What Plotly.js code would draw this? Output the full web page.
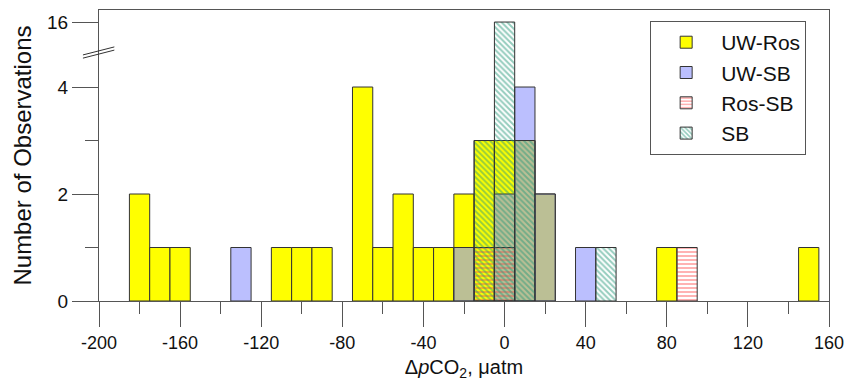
<!DOCTYPE html>
<html>
<head>
<meta charset="utf-8">
<script src="https://cdn.plot.ly/plotly-3.0.1.min.js"></script>
<style>
  html, body { margin: 0; padding: 0; background: #fff; }
  #chart { width: 851px; height: 385px; }
</style>
</head>
<body>
<div id="chart"></div>
<script>
// Histogram bins (centres, bin width 10 µatm) and counts per series
const uwRosX = [-180, -170, -160, -110, -100, -90, -70, -60, -50, -40, -30, -20, -10, 0, 10, 20, 80, 150];
const uwRosN = [2, 1, 1, 1, 1, 1, 4, 1, 2, 1, 1, 2, 3, 3, 3, 2, 1, 1];
const uwSbX = [-130, -20, 0, 10, 20, 40];
const uwSbN = [1, 1, 2, 4, 2, 1];
const rosSbX = [-10, 0, 90];
const rosSbN = [1, 1, 1];
const sbX = [-10, 0, 10, 50];
const sbN = [3, 16, 3, 1];

const seriesNames = ['UW-Ros', 'UW-SB', 'Ros-SB', 'SB'];
const xTickVals = [-200, -160, -120, -80, -40, 0, 40, 80, 120, 160];
const yTickLabels = ['0', '2', '4', '16'];
const yTickCounts = [0, 2, 4, 16];

// Broken y axis: 0..4 linear, then a break; 16 sits just above it
const BREAK_LIMIT = 4;
const BREAK_POS = 5.215;
function toAxis(v) { return v <= BREAK_LIMIT ? v : BREAK_POS; }

const BIN_W = 10;
const outline = { color: '#333333', width: 1 };

const traces = [
  {
    type: 'bar', name: seriesNames[0], x: uwRosX, y: uwRosN.map(toAxis),
    width: BIN_W, marker: { color: '#FFFF00', line: outline }
  },
  {
    type: 'bar', name: seriesNames[1], x: uwSbX, y: uwSbN.map(toAxis),
    width: BIN_W, marker: { color: 'rgba(140,146,254,0.59)', line: outline }
  },
  {
    type: 'bar', name: seriesNames[2], x: rosSbX, y: rosSbN.map(toAxis),
    width: BIN_W,
    marker: {
      color: 'rgba(0,0,0,0)', line: outline,
      pattern: { shape: '-', fgcolor: '#FF4848', bgcolor: 'rgba(0,0,0,0)', size: 4, solidity: 0.42, fillmode: 'overlay' }
    }
  },
  {
    type: 'bar', name: seriesNames[3], x: sbX, y: sbN.map(toAxis),
    width: BIN_W,
    marker: {
      color: 'rgba(0,0,0,0)', line: outline,
      pattern: { shape: '\\', fgcolor: '#2A9A7C', bgcolor: 'rgba(0,0,0,0)', size: 4, solidity: 0.5, fillmode: 'overlay' }
    }
  }
];

const FONT = 'Liberation Sans, Arial, sans-serif';
const axisColor = '#555555';

const layout = {
  width: 851, height: 385,
  margin: { l: 99, r: 22, t: 10, b: 84 },
  paper_bgcolor: '#ffffff', plot_bgcolor: '#ffffff',
  barmode: 'overlay',
  font: { family: FONT, size: 18, color: '#111111' },
  showlegend: true,
  legend: {
    x: 0.755, y: 0.962, xanchor: 'left', yanchor: 'top',
    bgcolor: '#ffffff', bordercolor: '#555555', borderwidth: 1,
    font: { family: FONT, size: 21, color: '#111111' },
    itemwidth: 60, tracegroupgap: 0
  },
  xaxis: {
    range: [-200, 160], showgrid: false, zeroline: false,
    showline: true, linecolor: axisColor, linewidth: 1, mirror: true,
    ticks: 'outside', ticklen: 25, tickcolor: axisColor, tickwidth: 1,
    tickmode: 'array', tickvals: xTickVals, ticktext: xTickVals.map(String),
    minor: { ticks: 'outside', ticklen: 12, tickcolor: axisColor, tickwidth: 1, dtick: 20, tick0: -180, showgrid: false },
    tickfont: { size: 18 },
    title: { text: '\u0394<i>p</i>CO<sub>2</sub>, \u03bcatm', font: { size: 20 }, standoff: 8 }
  },
  yaxis: {
    range: [0, 5.44], showgrid: false, zeroline: false,
    showline: true, linecolor: axisColor, linewidth: 1, mirror: true,
    ticks: 'outside', ticklen: 26, tickcolor: axisColor, tickwidth: 1,
    tickmode: 'array', tickvals: yTickCounts.map(toAxis), ticktext: yTickLabels,
    minor: { ticks: 'outside', ticklen: 13, tickcolor: axisColor, tickwidth: 1, tickvals: [1, 3], showgrid: false },
    tickfont: { size: 19 },
    title: { text: 'Number of Observations', font: { size: 24 }, standoff: 8 }
  },
  shapes: [
    { type: 'line', xref: 'paper', yref: 'y', x0: -0.022, x1: 0.021, y0: 4.54, y1: 4.69, line: { color: '#333333', width: 1 } },
    { type: 'line', xref: 'paper', yref: 'y', x0: -0.022, x1: 0.021, y0: 4.60, y1: 4.75, line: { color: '#333333', width: 1 } }
  ]
};

Plotly.newPlot('chart', traces, layout, { displayModeBar: false, staticPlot: true });
</script>
</body>
</html>
